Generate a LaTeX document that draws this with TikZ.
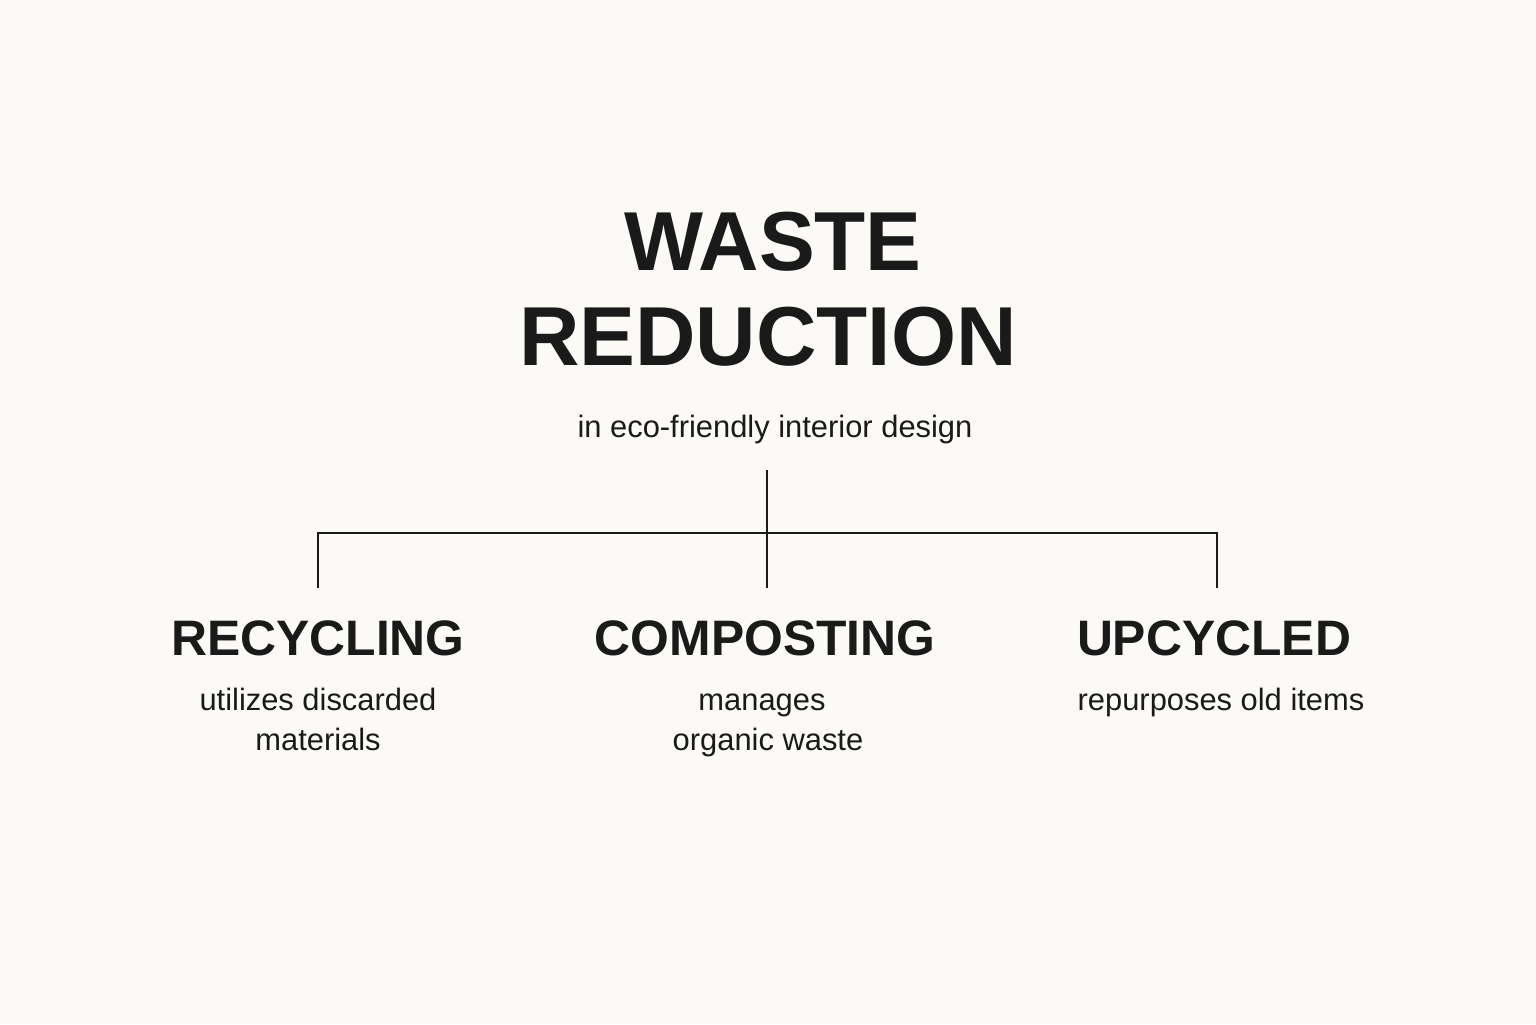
\documentclass[tikz,border=0pt]{standalone}
\usepackage{fontspec}
\setmainfont{Liberation Sans}
\begin{document}
\begin{tikzpicture}[x=1bp,y=-1bp,
  title/.style={font=\fontsize{84}{90}\selectfont\bfseries,text=ink,anchor=base,inner sep=0},
  head/.style={font=\fontsize{50}{56}\selectfont\bfseries,text=ink,anchor=base,inner sep=0},
  desc/.style={font=\fontsize{31}{40}\selectfont,text=ink,anchor=base,inner sep=0,align=center},
  conn/.style={draw=ink,line width=2.6bp}]
\definecolor{ink}{HTML}{1A1A1A}
\definecolor{bg}{HTML}{FBFAF6}
\fill[bg] (0,0) rectangle (1536,1024);
\useasboundingbox (0,0) rectangle (1536,1024);
\node[title] (t1) at (773,270) {WASTE};
\node[title] (t2) at (768,365) {REDUCTION};
\node[desc] (sub) at (775,437) {in eco-friendly interior design};
\coordinate (top) at (767,470);
\coordinate (mid) at (767,533);
\coordinate (l) at (318,533);
\coordinate (r) at (1217,533);
\coordinate (lb) at (318,588);
\coordinate (mb) at (767,588);
\coordinate (rb) at (1217,588);
\draw[conn] (top) -- (mb);
\draw[conn] (lb) -- (l) -- (r) -- (rb);
\node[head] (h1) at (318,655) {RECYCLING};
\node[head] (h2) at (765,655) {COMPOSTING};
\node[head] (h3) at (1214,655) {UPCYCLED};
\node[desc] (d1a) at (318,710) {utilizes discarded};
\node[desc] (d1b) at (318,750) {materials};
\node[desc] (d2a) at (762,710) {manages};
\node[desc] (d2b) at (768,750) {organic waste};
\node[desc] (d3) at (1221,710) {repurposes old items};
\end{tikzpicture}
\end{document}
